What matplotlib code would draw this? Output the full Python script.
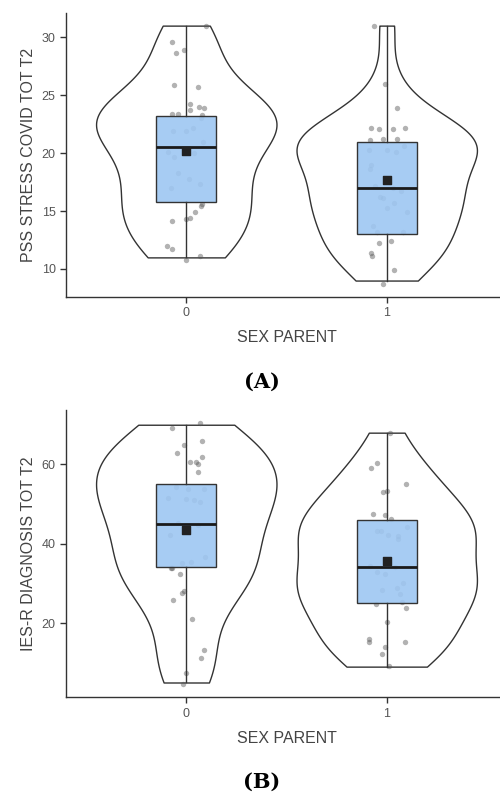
import numpy as np
import matplotlib
matplotlib.use('Agg')
import matplotlib.pyplot as plt
from matplotlib.ticker import MultipleLocator

plt.rcParams['font.family'] = ['Liberation Sans', 'DejaVu Sans']

groups = ['0', '1']

# (A) PSS stress covid, jittered points as seen in the picture
pss_0 = [31.0, 29.6, 28.9, 28.6, 25.9, 25.7, 24.2, 24.0, 23.9, 23.7, 23.4, 23.4,
         23.3, 23.0, 22.2, 21.9, 21.9, 21.0, 20.1, 20.0, 19.7, 18.3, 17.8, 17.3,
         17.0, 15.6, 15.4, 14.9, 14.4, 14.3, 14.1, 12.0, 11.7, 11.1, 10.8]
pss_0_dx = [0.10, -0.07, -0.01, -0.05, -0.06, 0.06, 0.02, 0.065, 0.09, 0.02, -0.07, -0.04,
            0.08, 0.075, 0.035, -0.065, 0.0, 0.085, -0.09, 0.04, -0.06, -0.04, 0.015, 0.07,
            -0.075, 0.08, 0.075, 0.045, 0.02, 0.0, -0.07, -0.095, -0.07, 0.07, 0.0]
# last four sit under the box / median line (estimated)
pss_1 = [31.0, 26.0, 23.9, 22.2, 22.1, 22.1, 22.2, 21.1, 21.2, 21.2, 20.3, 20.3, 20.1,
         20.6, 19.0, 18.6, 16.2, 15.7, 15.3, 14.9, 13.7, 13.2, 13.2, 12.2, 12.4, 11.4,
         11.1, 9.9, 8.7, 17.0, 17.2, 16.7, 16.1]
pss_1_dx = [-0.065, -0.01, 0.05, -0.08, -0.04, 0.03, 0.09, -0.085, -0.02, 0.05, -0.09, 0.0,
            0.045, 0.085, -0.08, -0.085, -0.035, 0.035, 0.0, 0.1, -0.07, -0.05, 0.08, -0.04,
            0.02, -0.08, -0.075, 0.035, -0.02, 0.03, -0.06, 0.07, -0.02]
pss_med = [20.5, 17.0]
pss_q1 = [15.8, 13.0]
pss_q3 = [23.2, 21.0]
pss_mean = [20.2, 17.65]

# (B) IES-R diagnosis
ies_0 = [70.4, 69.3, 65.8, 64.8, 62.8, 61.8, 60.6, 60.6, 60.2, 58.1, 54.4, 53.8, 53.7,
         51.4, 51.3, 50.9, 50.4, 36.6, 35.5, 35.1, 33.9, 33.8, 32.3, 28.0, 27.5, 25.7,
         21.1, 13.1, 11.1, 7.4, 4.6, 45.2, 44.8, 44.1, 42.2]
ies_0_dx = [0.07, -0.07, 0.08, -0.01, -0.045, 0.08, 0.02, 0.05, 0.06, 0.06, -0.05, 0.01, 0.09,
            -0.09, 0.0, 0.04, 0.07, 0.095, 0.025, -0.02, -0.075, -0.07, -0.03, -0.01, -0.02,
            -0.065, 0.03, 0.09, 0.075, 0.0, -0.015, -0.04, 0.06, 0.01, -0.08]
ies_1 = [67.8, 60.3, 59.2, 55.1, 53.4, 53.1, 47.6, 47.3, 46.2, 44.3, 43.2, 43.1, 42.3,
         41.9, 41.3, 34.3, 32.3, 28.4, 28.9, 27.2, 25.4, 24.7, 23.8, 20.2, 15.9, 15.1,
         15.2, 14.0, 12.1, 9.2, 34.1, 32.8, 30.2]
ies_1_dx = [0.015, -0.05, -0.08, 0.095, 0.0, -0.02, -0.07, -0.01, 0.02, 0.1, -0.05, -0.03,
            0.005, 0.055, 0.055, -0.085, -0.01, -0.025, 0.05, 0.065, 0.075, -0.055, 0.095,
            0.0, -0.09, -0.09, 0.09, -0.01, -0.025, 0.01, 0.04, -0.05, 0.08]
ies_med = [45.0, 34.0]
ies_q1 = [34.0, 25.0]
ies_q3 = [55.0, 46.0]
ies_mean = [43.5, 35.7]

LINE = '#333333'


def nrd0(kde):
    # same bandwidth rule R uses by default
    x = kde.dataset.ravel()
    sd = x.std(ddof=1)
    iqr = np.subtract(*np.percentile(x, [75, 25]))
    bw = 0.9 * min(sd, iqr / 1.34) * len(x) ** -0.2
    return bw / sd


def panel(ax, values, jitter, med, q1, q3, mean, ylabel, step):
    pos = np.arange(len(values))
    scores = [np.round(v) for v in values]  # points are jittered in height too

    vp = ax.violinplot(scores, positions=pos, widths=0.9, showextrema=False,
                       points=300, bw_method=nrd0)
    for b in vp['bodies']:
        b.set_facecolor('white')
        b.set_edgecolor(LINE)
        b.set_linewidth(1.0)
        b.set_alpha(1)
        b.set_zorder(1)

    for i in pos:
        ax.scatter(i + np.array(jitter[i]), values[i], s=15, color='#555555',
                   alpha=0.45, linewidths=0, zorder=2)

    stats = [dict(med=med[i], q1=q1[i], q3=q3[i], whislo=scores[i].min(),
                  whishi=scores[i].max(), fliers=[]) for i in pos]
    ax.bxp(stats, positions=pos, widths=0.3, patch_artist=True, showcaps=False,
           showfliers=False, zorder=3,
           boxprops=dict(facecolor=(0.62, 0.78, 0.95, 0.9), edgecolor=LINE, linewidth=1.0),
           whiskerprops=dict(color=LINE, linewidth=1.0),
           medianprops=dict(color='#1a1a1a', linewidth=2.0))
    ax.scatter(pos, mean, marker='s', s=40, color='#222222', zorder=5)

    allv = np.concatenate(values)
    pad = 0.05 * (allv.max() - allv.min())
    ax.set_ylim(allv.min() - pad, allv.max() + pad)
    ax.set_xlim(-0.6, 1.6)
    ax.yaxis.set_major_locator(MultipleLocator(step))
    ax.set_xticks(pos)
    ax.set_xticklabels(groups)

    for s in ['top', 'right']:
        ax.spines[s].set_visible(False)
    for s in ['left', 'bottom']:
        ax.spines[s].set_color(LINE)
        ax.spines[s].set_linewidth(1.0)
    ax.tick_params(length=4, width=1, color=LINE, labelcolor='#555555', labelsize=9)
    ax.set_ylabel(ylabel, fontsize=11.5, color='#444444', labelpad=4)
    ax.set_xlabel('SEX PARENT', fontsize=11.5, color='#444444', labelpad=8)


fig = plt.figure(figsize=(5, 7.94), dpi=100)
ax1 = fig.add_axes([0.132, 0.626, 0.882, 0.358])
ax2 = fig.add_axes([0.132, 0.122, 0.882, 0.3615])

panel(ax1, [np.array(pss_0), np.array(pss_1)], [pss_0_dx, pss_1_dx],
      pss_med, pss_q1, pss_q3, pss_mean, 'PSS STRESS COVID TOT T2', 5)
panel(ax2, [np.array(ies_0), np.array(ies_1)], [ies_0_dx, ies_1_dx],
      ies_med, ies_q1, ies_q3, ies_mean, 'IES-R DIAGNOSIS TOT T2', 20)

fig.text(0.524, 0.519, '(A)', ha='center', va='center', fontsize=15,
         fontweight='bold', family='DejaVu Serif')
fig.text(0.524, 0.016, '(B)', ha='center', va='center', fontsize=15,
         fontweight='bold', family='DejaVu Serif')

fig.savefig('out.png', dpi=100)
